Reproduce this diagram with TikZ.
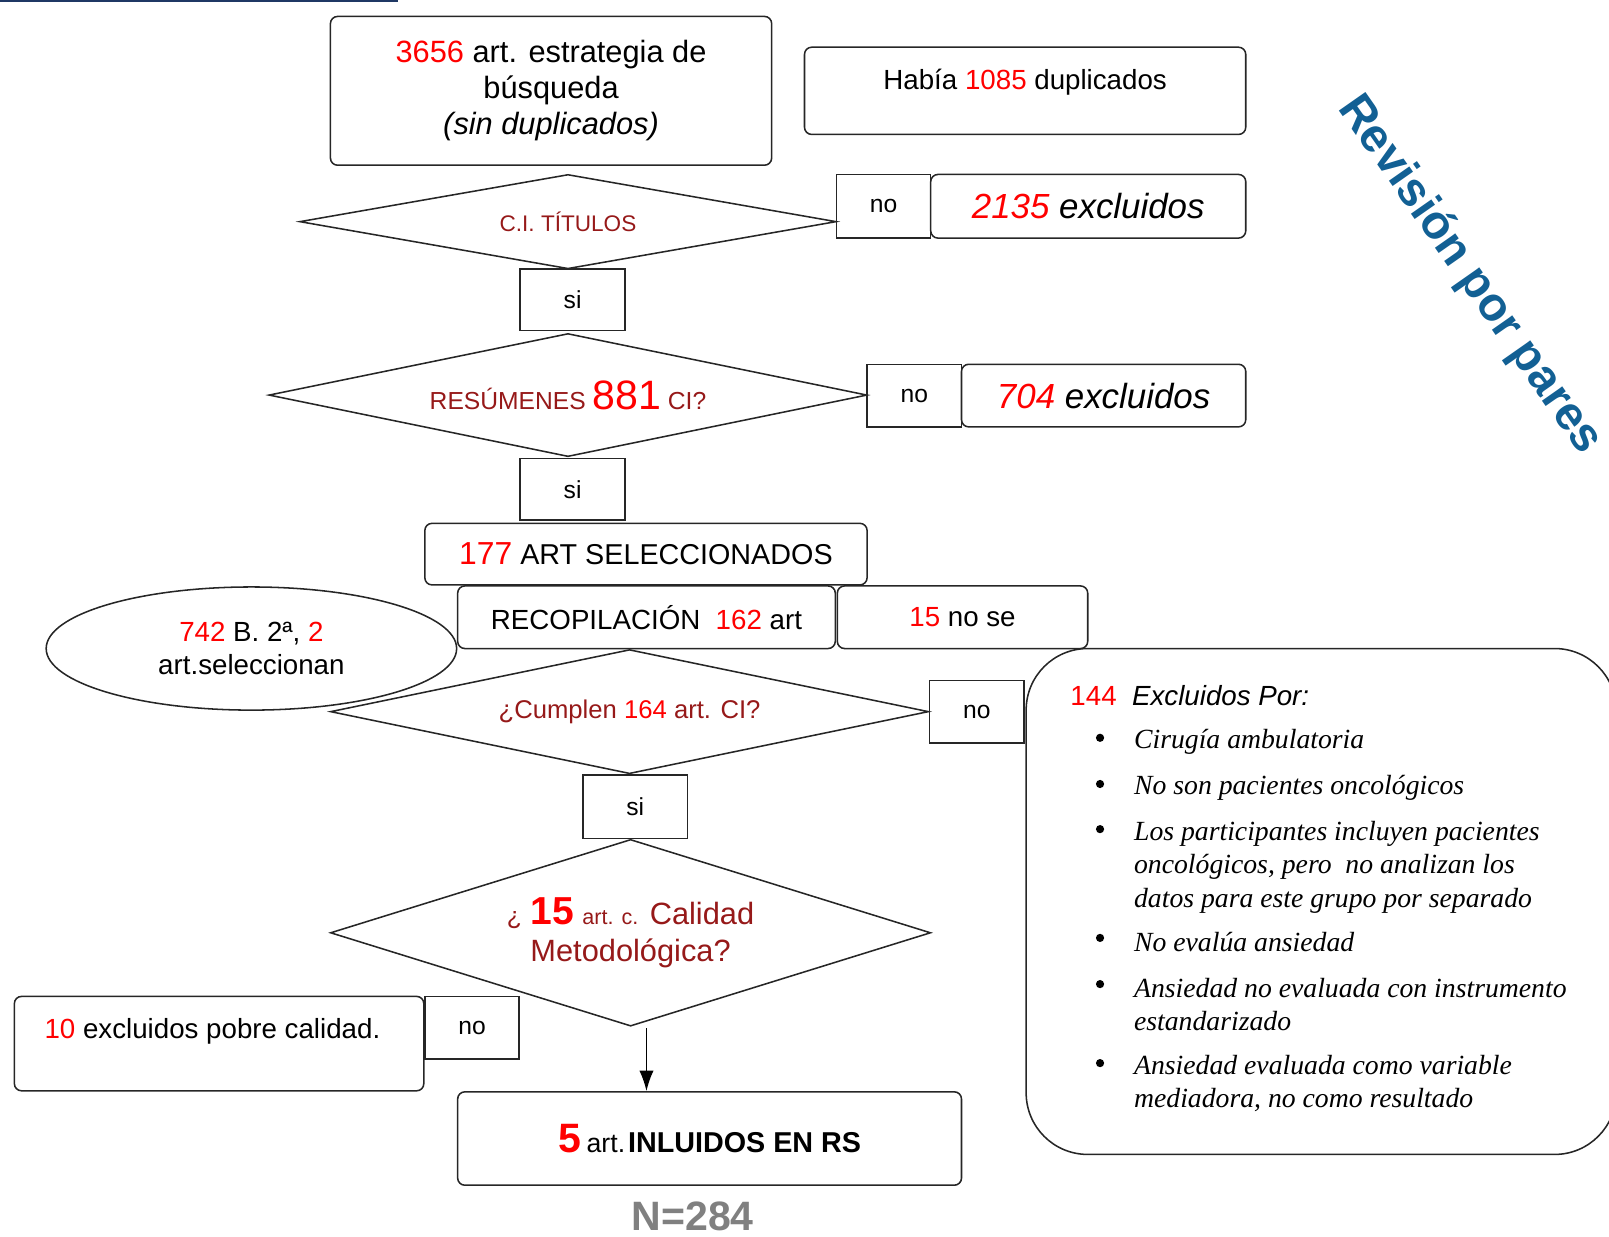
\documentclass[tikz,border=0pt]{standalone}
\usepackage{fontspec}
\setmainfont{Liberation Sans}
\newfontfamily\serifit{Liberation Serif}
\usetikzlibrary{shapes.geometric,arrows.meta}
\definecolor{dred}{RGB}{150,25,25}
\definecolor{bred}{RGB}{255,0,0}
\definecolor{topblue}{RGB}{31,56,100}
\definecolor{revblue}{RGB}{18,96,148}
\newcommand\fsz[2]{\fontsize{#1}{#2}\selectfont}
\begin{document}
\begin{tikzpicture}[x=1pt,y=-1pt,
  rbox/.style={draw=black!85,line width=1.5pt,rounded corners=7pt,inner sep=0pt,align=center},
  sqbox/.style={draw=black!85,line width=1.5pt,inner sep=0pt,align=center,font=\fsz{24}{28}},
  dia/.style={diamond,draw=black!85,line width=1.5pt,inner sep=0pt,align=center,text=dred},
  txt/.style={inner sep=0pt,align=center},
  itemtxt/.style={inner sep=0pt,anchor=west,align=left,font=\serifit\itshape\fsz{27}{32.5}},
  bullet/.style={circle,fill=black,inner sep=0pt,minimum size=8pt}]
\useasboundingbox (0,0) rectangle (1568,1205);
\clip (0,0) rectangle (1568,1205);

% top blue rule
\coordinate (ruleA) at (0,1);
\coordinate (ruleB) at (388,1);
\draw[topblue,line width=2.5pt] (ruleA) -- (ruleB);

% search box
\node[rbox,minimum width=430pt,minimum height=145pt,font=\fsz{30}{35}] (search) at (537,88.5)
  {\textcolor{bred}{3656} art. estrategia de\\búsqueda\\\textit{(sin duplicados)}};
\node[rbox,minimum width=430pt,minimum height=85pt] (dup) at (999,88.5) {};
\node[txt,font=\fsz{27}{32}] (duptxt) at (999,80) {Había \textcolor{bred}{1085} duplicados};

% diamond 1
\node[dia,aspect=5.7,minimum width=523pt,minimum height=92pt,font=\fsz{22}{26}] (d1) at (553.5,216) {C.I. TÍTULOS};
\node[sqbox,minimum width=92pt,minimum height=62pt,text width=80pt] (no1) at (861,201) {no};
\node[rbox,minimum width=307pt,minimum height=62pt,font=\itshape\fsz{34}{40}] (ex1) at (1060.5,201) {\textcolor{bred}{2135} excluidos};
\node[sqbox,minimum width=102pt,minimum height=60pt] (si1) at (558,292) {si};

% diamond 2
\node[dia,aspect=4.9,minimum width=583pt,minimum height=120pt,font=\fsz{24}{28}] (d2) at (553.5,385)
  {RESÚMENES \textcolor{bred}{\fsz{40}{44}881} CI?};
\node[sqbox,minimum width=92pt,minimum height=61pt] (no2) at (891,385.5) {no};
\node[rbox,minimum width=277pt,minimum height=61pt,font=\itshape\fsz{34}{40}] (ex2) at (1075.5,385.5) {\textcolor{bred}{704} excluidos};
\node[sqbox,minimum width=102pt,minimum height=60pt] (si2) at (558,477) {si};

% selected / compilation
\node[rbox,minimum width=431pt,minimum height=60pt,font=\fsz{28}{32}] (sel) at (629.5,540)
  {\textcolor{bred}{\fsz{31}{34}177} ART SELECCIONADOS};
\node[rbox,minimum width=368pt,minimum height=61pt,font=\fsz{27}{32}] (rec) at (630,601.5)
  {RECOPILACIÓN\ \ \textcolor{bred}{162} art};
\node[rbox,minimum width=244pt,minimum height=61pt,font=\fsz{27}{32}] (nose) at (938,601.5)
  {\textcolor{bred}{15} no se};

% ellipse
\node[ellipse,draw=black!85,line width=1.5pt,minimum width=400pt,minimum height=120pt,inner sep=0pt,align=center,font=\fsz{27}{32}] (ell) at (245,632)
  {\textcolor{bred}{742} B. 2ª, \textcolor{bred}{2}\\art.seleccionan};

% diamond 3
\node[dia,aspect=4.8,minimum width=583pt,minimum height=121pt,font=\fsz{25}{30}] (d3) at (613.5,693.5)
  {¿Cumplen \textcolor{bred}{164} art. CI?};
\node[sqbox,minimum width=92pt,minimum height=61pt] (no3) at (952,693.5) {no};
\node[sqbox,minimum width=102pt,minimum height=62pt] (si3) at (619,786) {si};

% big exclusion box
\node[draw=black!85,line width=1.5pt,rounded corners=60pt,minimum width=575pt,minimum height=493pt,inner sep=0pt] (big) at (1287.5,878.5) {};
\node[inner sep=0pt,anchor=west,font=\fsz{27}{32}] (exh) at (1043,678) {\textcolor{bred}{144}\ \ \textit{Excluidos Por:}};
\node[bullet] (b1) at (1072,719) {};
\node[bullet] (b2) at (1072,764) {};
\node[bullet] (b3) at (1072,808) {};
\node[bullet] (b4) at (1072,914) {};
\node[bullet] (b5) at (1072,959) {};
\node[bullet] (b6) at (1072,1036) {};
\node[itemtxt] (t1) at (1105,723) {Cirugía ambulatoria};
\node[itemtxt] (t2) at (1105,768) {No son pacientes oncológicos};
\node[itemtxt] (t3) at (1105,845) {Los participantes incluyen pacientes\\oncológicos, pero\ \ no analizan los\\datos para este grupo por separado};
\node[itemtxt] (t4) at (1105,918) {No evalúa ansiedad};
\node[itemtxt] (t5) at (1105,979) {Ansiedad no evaluada con instrumento\\estandarizado};
\node[itemtxt] (t6) at (1105,1056) {Ansiedad evaluada como variable\\mediadora, no como resultado};

% diamond 4
\node[dia,aspect=3.2,minimum width=585pt,minimum height=182pt,font=\fsz{30}{37}] (d4) at (614.5,909)
  {{\fsz{24}{28}¿} {\bfseries\fsz{38}{40}\textcolor{bred}{15}} {\fsz{21}{24}art. c.} Calidad\\Metodológica?};

% quality exclusion
\node[rbox,minimum width=399pt,minimum height=92pt] (ex4) at (213.5,1017) {};
\node[txt,font=\fsz{27}{32}] (ex4txt) at (207,1005) {\textcolor{bred}{10} excluidos pobre calidad.};
\node[sqbox,minimum width=92pt,minimum height=61pt] (no4) at (460,1001.5) {no};

% included
\node[rbox,minimum width=491pt,minimum height=91pt] (incl) at (691.5,1109.5)
  {{\bfseries\fsz{40}{44}\textcolor{bred}{5}}\ \ {\fsz{26}{30}art.}\ {\bfseries\fsz{28}{32}INLUIDOS EN RS}};
\coordinate (arrtop) at (630,1002);
\draw[line width=1.5pt,-{Latex[length=20pt,width=14pt]}] (arrtop) -- (arrtop |- incl.north);

% N
\node[txt,font=\bfseries\fsz{40}{44},text=black!50] (N) at (675,1185) {N=284};

% peer review label
\node[txt,rotate=-55,font=\bfseries\fsz{46}{50},text=revblue] (rev) at (1432,268) {Revisión por pares};
\end{tikzpicture}
\end{document}
